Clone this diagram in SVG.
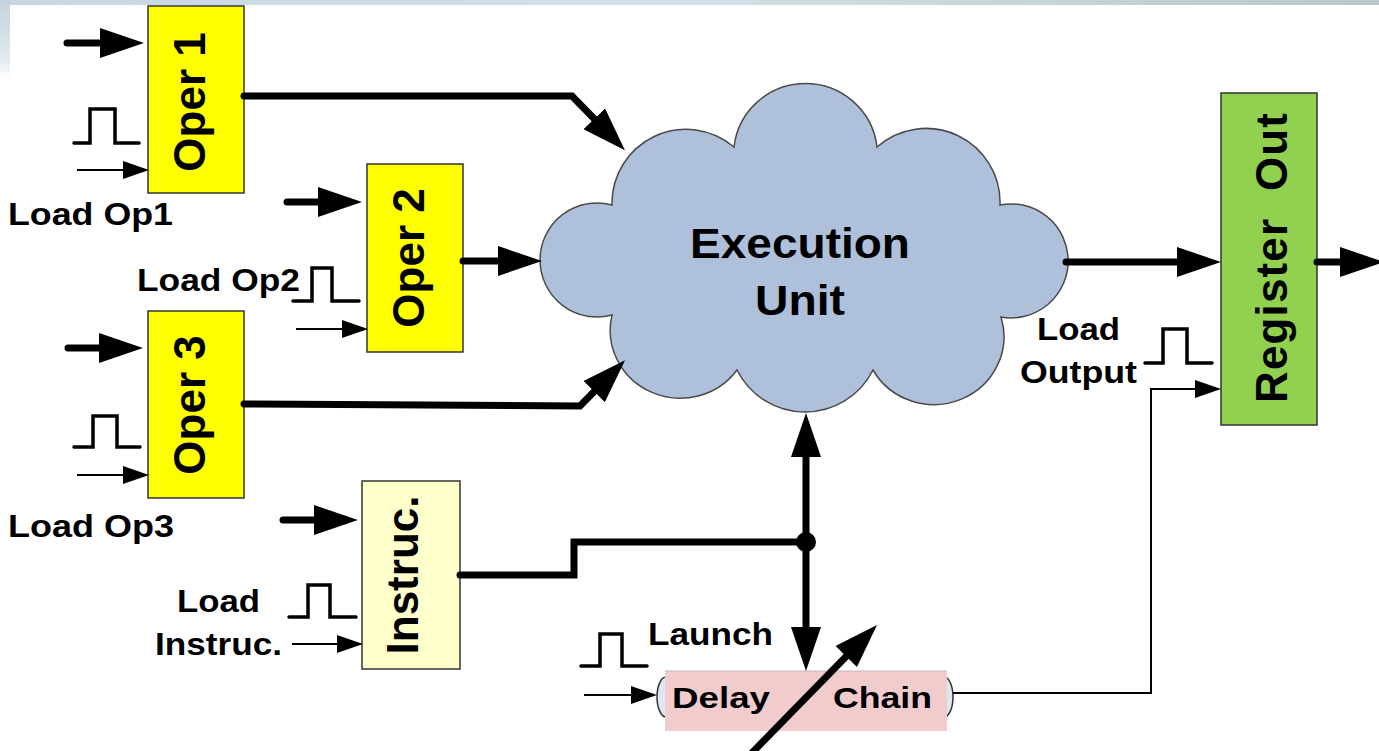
<svg xmlns="http://www.w3.org/2000/svg" width="1379" height="751" viewBox="0 0 1379 751">
  <defs>
    <linearGradient id="topBand" x1="0" y1="0" x2="1" y2="0">
      <stop offset="0" stop-color="#c7d7e1"/>
      <stop offset="0.5" stop-color="#d3e0e8"/>
      <stop offset="0.75" stop-color="#c5d6d6"/>
      <stop offset="1" stop-color="#b8c8cc"/>
    </linearGradient>
    <linearGradient id="leftBand" x1="0" y1="0" x2="0" y2="1">
      <stop offset="0" stop-color="#c3d3dd"/>
      <stop offset="0.7" stop-color="#dfe8ee"/>
      <stop offset="1" stop-color="#ffffff"/>
    </linearGradient>
    <!-- heavy data-path arrowhead: 44 long, 30 wide; tip lands 20px past the path end -->
    <marker id="headBig" markerUnits="userSpaceOnUse" viewBox="0 0 44 30" markerWidth="44" markerHeight="30" refX="24" refY="15" orient="auto">
      <path d="M0,0 L44,15 L0,30 z" fill="#000"/>
    </marker>
    <!-- light control-signal arrowhead: 26 long, 18 wide; tip lands 10px past the path end -->
    <marker id="headSmall" markerUnits="userSpaceOnUse" viewBox="0 0 26 18" markerWidth="26" markerHeight="18" refX="16" refY="9" orient="auto">
      <path d="M0,0 L26,9 L0,18 z" fill="#000"/>
    </marker>
    <style>
      .reg { stroke: #333; stroke-width: 1.5; }
      .oper { fill: #ffff00; }
      .instr { fill: #ffffcc; }
      .out { fill: #92d050; }
      .vlabel { font-family: "Liberation Sans", Arial, sans-serif; font-weight: bold; font-size: 44px; fill: #000; text-anchor: middle; white-space: pre; }
      .label { font-family: "Liberation Sans", Arial, sans-serif; font-weight: bold; font-size: 32px; fill: #000; }
      .big { font-family: "Liberation Sans", Arial, sans-serif; font-weight: bold; font-size: 42px; fill: #000; text-anchor: middle; }
      .bus { fill: none; stroke: #000; stroke-width: 7; stroke-linecap: round; stroke-linejoin: miter; }
      .ctl { fill: none; stroke: #000; stroke-width: 2; }
      .pulse { fill: none; stroke: #000; stroke-width: 3.5; stroke-linecap: round; stroke-linejoin: miter; }
    </style>
  </defs>

  <!-- page background -->
  <rect x="0" y="0" width="1379" height="751" fill="#ffffff"/>
  <rect x="0" y="0" width="1379" height="5" fill="url(#topBand)"/>
  <rect x="0" y="0" width="10" height="80" fill="url(#leftBand)"/>

  <!-- execution unit (cloud) -->
  <g id="execution-unit">
    <path d="M612,205 A74,74 0 0 1 734,147 A72,72 0 0 1 877,147 A74,74 0 0 1 1000,205 A57,57 0 1 1 1001,317 A70,68 0 0 1 873,370 A76,76 0 0 1 737,370 A70,68 0 0 1 612,315 A57,57 0 1 1 612,205 Z" fill="#afc1da" stroke="#4a4a4a" stroke-width="1.5"/>
    <text class="big" x="800" y="258" textLength="220" lengthAdjust="spacingAndGlyphs">Execution</text>
    <text class="big" x="800" y="315" textLength="90" lengthAdjust="spacingAndGlyphs">Unit</text>
  </g>

  <!-- operand registers -->
  <g id="oper1">
    <rect class="reg oper" x="148" y="6" width="96" height="187"/>
    <text class="vlabel" transform="translate(205,102) rotate(-90)">Oper 1</text>
  </g>
  <g id="oper2">
    <rect class="reg oper" x="367" y="164" width="96" height="188"/>
    <text class="vlabel" transform="translate(424,258) rotate(-90)">Oper 2</text>
  </g>
  <g id="oper3">
    <rect class="reg oper" x="148" y="311" width="96" height="187"/>
    <text class="vlabel" transform="translate(205,405) rotate(-90)">Oper 3</text>
  </g>
  <g id="instruc">
    <rect class="reg instr" x="362" y="481" width="98" height="188"/>
    <text class="vlabel" transform="translate(418,575) rotate(-90)">Instruc.</text>
  </g>
  <g id="register-out">
    <rect class="reg out" x="1221" y="93" width="96" height="332"/>
    <text class="vlabel" transform="translate(1287,258) rotate(-90)" textLength="290">Register  Out</text>
  </g>

  <!-- tunable delay line -->
  <g id="delay-chain">
    <rect x="657" y="677" width="296" height="40" rx="9" ry="20" fill="#dde6f1" stroke="#333" stroke-width="1.5"/>
    <rect x="665" y="671" width="282" height="60" fill="#f2cccc"/>
    <line x1="665" y1="671" x2="947" y2="671" stroke="#c9b5b5" stroke-width="1"/>
    <text class="label" x="672" y="708" textLength="98" lengthAdjust="spacingAndGlyphs" style="font-size:30px">Delay</text>
    <text class="label" x="833" y="708" textLength="99" lengthAdjust="spacingAndGlyphs" style="font-size:30px">Chain</text>
    <path class="bus" d="M745,760 L863,639.3" stroke-width="6" marker-end="url(#headBig)"/>
  </g>

  <!-- signal labels -->
  <g id="labels">
    <text class="label" x="8" y="225" textLength="165" lengthAdjust="spacingAndGlyphs">Load Op1</text>
    <text class="label" x="137" y="291" textLength="163" lengthAdjust="spacingAndGlyphs">Load Op2</text>
    <text class="label" x="8" y="537" textLength="166" lengthAdjust="spacingAndGlyphs">Load Op3</text>
    <text class="label" x="177" y="612" textLength="83" lengthAdjust="spacingAndGlyphs">Load</text>
    <text class="label" x="155" y="655" textLength="127" lengthAdjust="spacingAndGlyphs">Instruc.</text>
    <text class="label" x="648" y="645" textLength="125" lengthAdjust="spacingAndGlyphs">Launch</text>
    <text class="label" x="1037" y="340" textLength="83" lengthAdjust="spacingAndGlyphs">Load</text>
    <text class="label" x="1020" y="383" textLength="117" lengthAdjust="spacingAndGlyphs">Output</text>
  </g>

  <!-- clock pulses -->
  <g id="pulses">
    <path class="pulse" d="M74,143 H90 V109 H115 V143 H139"/>
    <path class="pulse" d="M293,301 H312 V268 H332 V301 H359"/>
    <path class="pulse" d="M74,447 H93 V416 H117 V447 H140"/>
    <path class="pulse" d="M289,617 H308 V585 H330 V617 H356"/>
    <path class="pulse" d="M581,666 H600 V634 H622 V666 H647"/>
    <path class="pulse" d="M1145,363 H1163 V329 H1187 V363 H1212"/>
  </g>

  <!-- connectors -->
  <g id="connectors">
    <!-- data inputs -->
    <path class="bus" d="M67,43 H124" marker-end="url(#headBig)"/>
    <path class="bus" d="M287,202 H342" marker-end="url(#headBig)"/>
    <path class="bus" d="M68,348 H123" marker-end="url(#headBig)"/>
    <path class="bus" d="M283,520 H338" marker-end="url(#headBig)"/>
    <!-- operands into the execution unit -->
    <path class="bus" d="M244,96 H572 L611,136" marker-end="url(#headBig)"/>
    <path class="bus" d="M463,261 H522" marker-end="url(#headBig)"/>
    <path class="bus" d="M244,404 L580,406 L611,374.5" marker-end="url(#headBig)"/>
    <!-- instruction bus with branch point -->
    <path class="bus" d="M460,575 H574 V542 H806"/>
    <path class="bus" d="M806,542 V433" marker-end="url(#headBig)"/>
    <path class="bus" d="M806,542 V651" marker-end="url(#headBig)"/>
    <circle cx="806" cy="542" r="10" fill="#000"/>
    <!-- result path -->
    <path class="bus" d="M1066,262 H1201" marker-end="url(#headBig)"/>
    <path class="bus" d="M1317,262 H1364" marker-end="url(#headBig)"/>
    <!-- load strobes -->
    <path class="ctl" d="M77,170 H139" marker-end="url(#headSmall)"/>
    <path class="ctl" d="M296,329 H358" marker-end="url(#headSmall)"/>
    <path class="ctl" d="M77,475 H139" marker-end="url(#headSmall)"/>
    <path class="ctl" d="M292,644 H353" marker-end="url(#headSmall)"/>
    <path class="ctl" d="M584,695 H647" marker-end="url(#headSmall)"/>
    <path class="ctl" d="M953,693 H1151 V389 H1211" marker-end="url(#headSmall)"/>
  </g>
</svg>
